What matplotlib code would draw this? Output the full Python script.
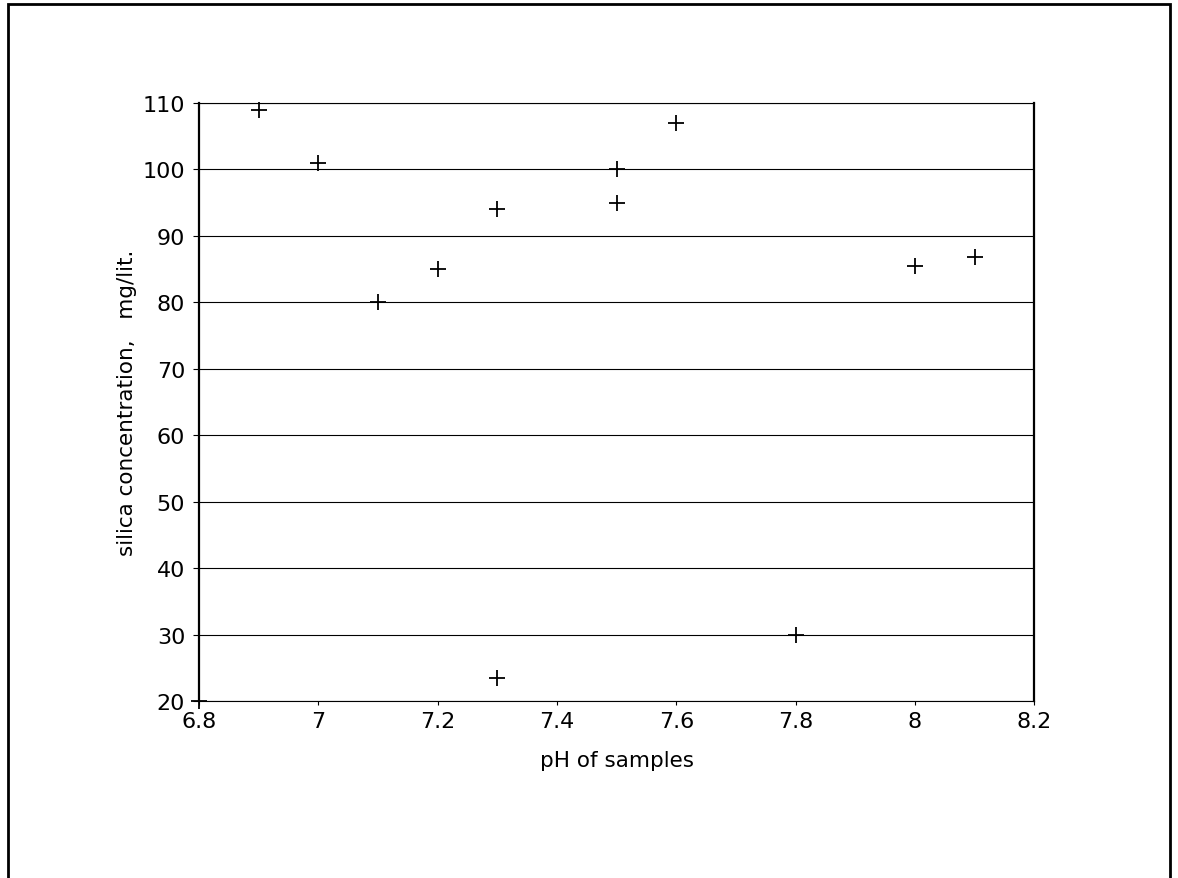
import matplotlib
matplotlib.use("Agg")
import matplotlib.pyplot as plt
from matplotlib.patches import Rectangle

# pH of samples vs silica concentration (mg/lit.)
ph = [6.8, 6.9, 7.0, 7.1, 7.2, 7.3, 7.3, 7.5, 7.5, 7.6, 7.8, 8.0, 8.1]
silica = [20, 109, 101, 80, 85, 94, 23.5, 100, 95, 107, 30, 85.5, 86.8]

x_ticks = [6.8, 7.0, 7.2, 7.4, 7.6, 7.8, 8.0, 8.2]
x_labels = ["6.8", "7", "7.2", "7.4", "7.6", "7.8", "8", "8.2"]
y_ticks = list(range(20, 111, 10))

plt.rcParams["font.family"] = ["DejaVu Sans"]

fig = plt.figure(figsize=(11.78, 8.79), dpi=100)
ax = fig.add_axes([0.169, 0.2014, 0.709, 0.6803])

ax.scatter(ph, silica, marker="+", s=140, color="black", linewidths=1.3, zorder=3, clip_on=False)

ax.set_xlim(6.8, 8.2)
ax.set_ylim(20, 110)
ax.set_xticks(x_ticks)
ax.set_xticklabels(x_labels)
ax.set_yticks(y_ticks)
ax.grid(axis="y", color="black", linewidth=0.8)
ax.tick_params(axis="both", direction="out", length=4, width=0.8, labelsize=16)
ax.tick_params(axis="y", pad=6)
ax.tick_params(axis="x", length=3, pad=4)
for side in ["top", "bottom"]:
    ax.spines[side].set_linewidth(0.8)
for side in ["left", "right"]:
    ax.spines[side].set_linewidth(1.6)

ax.set_xlabel("pH of samples", fontsize=15.5, labelpad=14)
ax.set_ylabel("silica concentration,   mg/lit.", fontsize=15.5, labelpad=4)

# outer frame of the page
fig.patches.append(Rectangle((0.007, -0.05), 0.986, 1.044, transform=fig.transFigure,
                             fill=False, edgecolor="black", linewidth=2))

fig.savefig("out.png", dpi=100)
